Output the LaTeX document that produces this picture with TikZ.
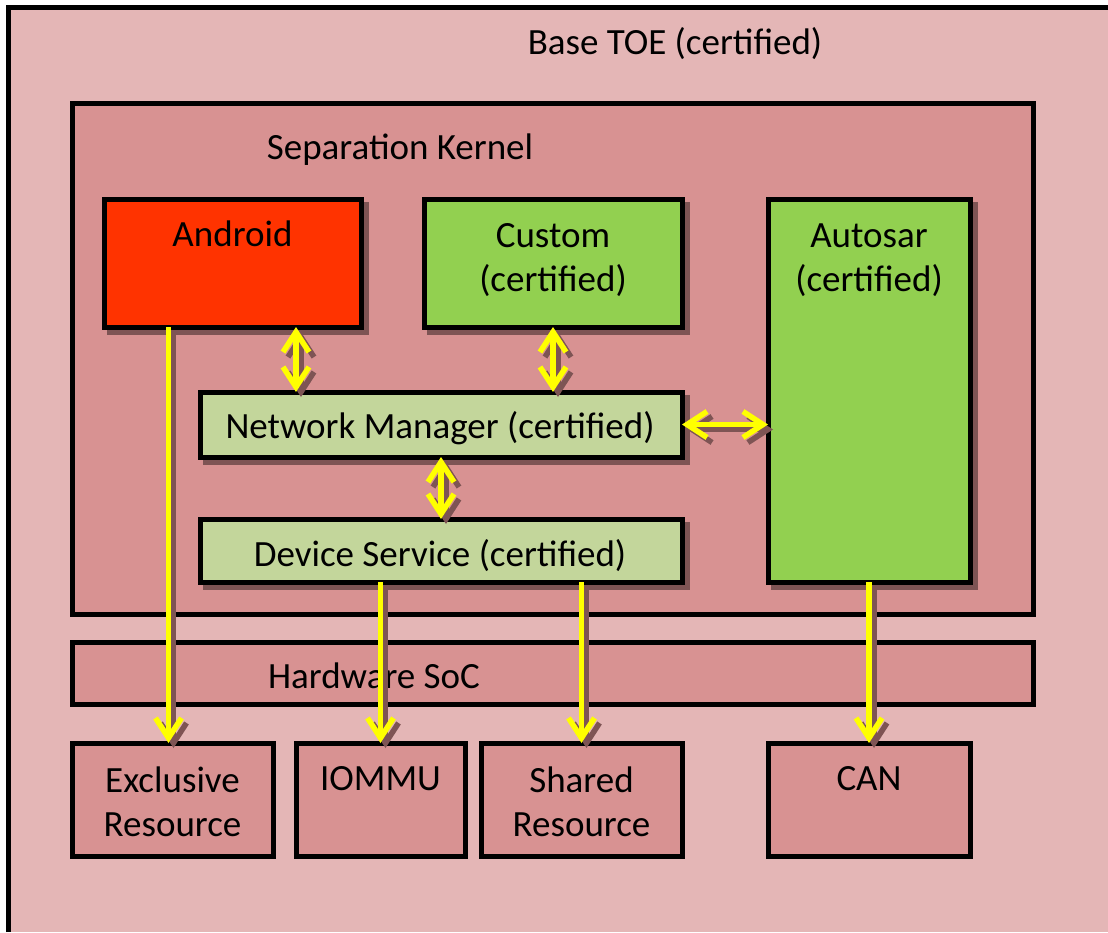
\documentclass[tikz,border=0pt]{standalone}
\usepackage{fontspec}
\setmainfont{Carlito}
\usetikzlibrary{arrows.meta}
\definecolor{outerc}{HTML}{E4B6B6}
\definecolor{kernc}{HTML}{D89292}
\definecolor{andc}{HTML}{FF3300}
\definecolor{grnc}{HTML}{92D050}
\definecolor{lgrnc}{HTML}{C3D69B}
\definecolor{ylw}{HTML}{FFFF00}
\definecolor{shdc}{HTML}{7E5454}
\pgfdeclarelayer{back}
\pgfdeclarelayer{shd}
\pgfsetlayers{back,shd,main}
\tikzset{
 box/.style={draw=black, line width=5pt, inner sep=0pt, outer sep=0pt, anchor=north west},
 bshd/.style={fill=shdc},
 lbl/.style={font=\fontsize{37}{44}\selectfont, align=center, inner sep=0pt, anchor=base},
 barb/.tip={Straight Barb[length=20pt,width=26pt]},
 conn/.style={draw=ylw, line width=5.5pt, -barb},
 dconn/.style={conn, barb-barb},
 sconn/.style={draw=shdc, line width=5.5pt, -barb},
 sdconn/.style={sconn, barb-barb},
 sh/.style={shift={(5,5)}}
}
\begin{document}
\begin{tikzpicture}[x=1pt,y=-1pt]
\useasboundingbox (0,0) rectangle (1108,932);
\begin{pgfonlayer}{back}
\node[fill=outerc, inner sep=0pt, outer sep=0pt, anchor=north west, minimum width=1099.5, minimum height=925] (toe) at (8.5,7) {};
\draw[line width=5pt, black] (toe.south west) -- (toe.north west) -- (toe.north east);
\node[box, fill=kernc, minimum width=961, minimum height=511] (kern) at (72,103) {};
\node[box, fill=kernc, minimum width=961, minimum height=62] (hw) at (72,642) {};
\node[box, fill=kernc, minimum width=201, minimum height=113] (excl) at (72,743) {};
\node[box, fill=kernc, minimum width=169, minimum height=113] (iommu) at (296,743) {};
\node[box, fill=kernc, minimum width=201, minimum height=113] (shared) at (481,743) {};
\node[box, fill=kernc, minimum width=202, minimum height=113] (can) at (768,743) {};
\end{pgfonlayer}

\node[lbl] (toeT) at (675,54.5) {Base TOE (certified)};
\node[lbl] (kernT) at (400,159.5) {Separation Kernel};
\node[lbl] (hwT) at (374,688.5) {Hardware SoC};
\node[lbl] (exclT) at (172.5,836.5) {Exclusive\\Resource};
\node[lbl] (iommuT) at (380.5,790.5) {IOMMU};
\node[lbl] (sharedT) at (581.5,836.5) {Shared\\Resource};
\node[lbl] (canT) at (869,790.5) {CAN};

\node[box, fill=andc, minimum width=257, minimum height=128] (android) at (104,199) {};
\node[lbl] (androidT) at (232.5,246) {Android};
\node[box, fill=grnc, minimum width=258, minimum height=128] (custom) at (424,199) {};
\node[lbl] (customT) at (553,291.5) {Custom\\(certified)};
\node[box, fill=grnc, minimum width=202, minimum height=383] (autosar) at (768,199) {};
\node[lbl] (autosarT) at (869,291.5) {Autosar\\(certified)};
\node[box, fill=lgrnc, minimum width=482, minimum height=65] (nm) at (200,392) {};
\node[lbl] (nmT) at (440,438.5) {Network Manager (certified)};
\node[box, fill=lgrnc, minimum width=482, minimum height=63] (ds) at (200,519) {};
\node[lbl] (dsT) at (440,566.5) {Device Service (certified)};

\begin{pgfonlayer}{shd}
\foreach \b in {android,custom,autosar,nm,ds}
  \fill[bshd] ([sh,shift={(-2.5,-2.5)}]\b.north west) rectangle ([sh,shift={(2.5,2.5)}]\b.south east);
\end{pgfonlayer}

\draw[sconn] ([sh,xshift=-4pt]excl.north |- android.south) -- ([sh,xshift=-4pt]excl.north);
\draw[sdconn] ([sh,xshift=96pt]nm.north west |- android.south) -- ([sh,xshift=96pt]nm.north west);
\draw[sdconn] ([sh]custom.south) -- ([sh]custom.south |- nm.north);
\draw[sdconn] ([sh]nm.east) -- ([sh]nm.east -| autosar.west);
\draw[sdconn] ([sh]nm.south) -- ([sh]ds.north);
\draw[sconn] ([sh]ds.south -| iommu.north) -- ([sh]iommu.north);
\draw[sconn] ([sh]ds.south -| shared.north) -- ([sh]shared.north);
\draw[sconn] ([sh]autosar.south) -- ([sh]can.north);

\draw[conn] ([xshift=-4pt]excl.north |- android.south) -- ([xshift=-4pt]excl.north);
\draw[dconn] ([xshift=96pt]nm.north west |- android.south) -- ([xshift=96pt]nm.north west);
\draw[dconn] (custom.south) -- (custom.south |- nm.north);
\draw[dconn] (nm.east) -- (nm.east -| autosar.west);
\draw[dconn] (nm.south) -- (ds.north);
\draw[conn] (ds.south -| iommu.north) -- (iommu.north);
\draw[conn] (ds.south -| shared.north) -- (shared.north);
\draw[conn] (autosar.south) -- (can.north);
\end{tikzpicture}
\end{document}
